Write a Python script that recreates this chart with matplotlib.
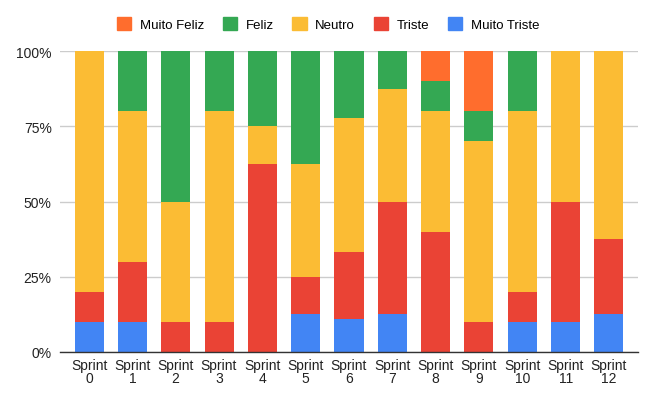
import matplotlib
matplotlib.use("Agg")
import matplotlib.pyplot as plt
from matplotlib.patches import Patch
import numpy as np

plt.rcParams['font.family'] = ['Liberation Sans', 'DejaVu Sans']

sprints = ["Sprint\n0", "Sprint\n1", "Sprint\n2", "Sprint\n3", "Sprint\n4", "Sprint\n5", "Sprint\n6",
           "Sprint\n7", "Sprint\n8", "Sprint\n9", "Sprint\n10", "Sprint\n11", "Sprint\n12"]
muito_triste = [10, 10, 0, 0, 0, 12.5, 11.1, 12.5, 0, 0, 10, 10, 12.5]
triste       = [10, 20, 10, 10, 62.5, 12.5, 22.2, 37.5, 40, 10, 10, 40, 25]
neutro       = [80, 50, 40, 70, 12.5, 37.5, 44.5, 37.5, 40, 60, 60, 50, 62.5]
feliz        = [0, 20, 50, 20, 25, 37.5, 22.2, 12.5, 10, 10, 20, 0, 0]
muito_feliz  = [0, 0, 0, 0, 0, 0, 0, 0, 10, 20, 0, 0, 0]

series = [("Muito Triste", muito_triste, "#4285F4"),
          ("Triste", triste, "#EA4335"),
          ("Neutro", neutro, "#FBBC34"),
          ("Feliz", feliz, "#34A853"),
          ("Muito Feliz", muito_feliz, "#FF6D2D")]

fig = plt.figure(figsize=(6.56, 4.06), dpi=100)
ax = fig.add_axes([60/656, 1-353/406, 578/656, 301/406])

x = np.arange(len(sprints))
bottom = np.zeros(len(sprints))
for name, vals, col in series:
    v = np.array(vals, dtype=float)
    ax.bar(x, v, bottom=bottom, width=0.67, color=col, zorder=2)
    bottom += v

ax.set_xlim(-0.67, len(sprints) - 1 + 0.67)
ax.set_ylim(0, 100)
ax.set_yticks([0, 25, 50, 75, 100])
ax.set_yticklabels(["0%", "25%", "50%", "75%", "100%"])
ax.set_xticks(x)
ax.set_xticklabels(sprints, linespacing=0.95)
ax.grid(axis='y', color='#cccccc', linewidth=1, zorder=0)
for s in ['top', 'right', 'left']:
    ax.spines[s].set_visible(False)
ax.spines['bottom'].set_color('#333333')
ax.spines['bottom'].set_linewidth(1)
ax.spines['bottom'].set_zorder(3)
ax.tick_params(axis='both', length=0, labelsize=10, colors='#222222')
ax.tick_params(axis='y', pad=6)
ax.tick_params(axis='x', pad=4)

handles = [Patch(color=c, label=n) for n, _, c in series[::-1]]
fig.legend(handles=handles, loc='center', bbox_to_anchor=(328/656, 1-25/406), ncol=5,
           frameon=False, fontsize=9.5, handlelength=1.1, handleheight=1.1,
           columnspacing=1.42, handletextpad=0.63)

fig.savefig("out.png", dpi=100)
